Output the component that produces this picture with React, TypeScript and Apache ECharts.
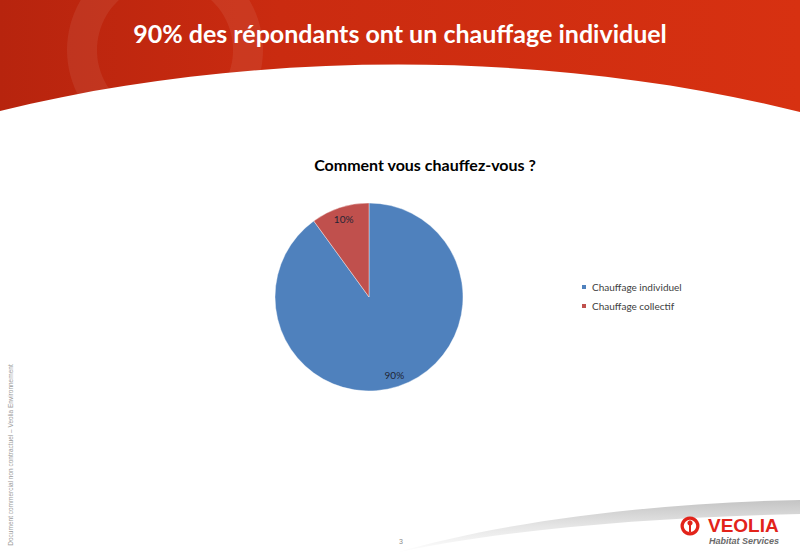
import React, { useEffect, useRef } from "react";
import * as echarts from "echarts";

const pageTitle = "90% des répondants ont un chauffage individuel";
const chartTitle = "Comment vous chauffez-vous ?";
const categories = ["Chauffage individuel", "Chauffage collectif"];
const values = [90, 10];
const sliceColors = ["#4f81bd", "#c0504d"];
const sideNote = "Document commercial non contractuel – Veolia Environnement";
const pageNumber = "3";

echarts.graphic.registerShape(
  "headerBand",
  echarts.graphic.extendPath("M0 0 L800 0 L800 112 C550 49 250 49 0 111 Z", {})
);
echarts.graphic.registerShape(
  "footerSwoosh",
  echarts.graphic.extendPath(
    "M395 553 C500 522 650 503 800 500 L800 514 C650 517 500 530 395 553 Z",
    {}
  )
);

export default function App() {
  const ref = useRef<HTMLDivElement>(null);
  useEffect(() => {
    if (!ref.current) return;
    const chart = echarts.init(ref.current, null, { renderer: "svg" });
    const data = categories.map((name, i) => ({
      name,
      value: values[i],
      itemStyle: { color: sliceColors[i] },
    }));
    chart.setOption({
      animation: false,
      backgroundColor: "#ffffff",
      legend: {
        data: categories,
        orient: "vertical",
        left: 575,
        top: 277,
        icon: "rect",
        itemWidth: 6,
        itemHeight: 6,
        itemGap: 9,
        textStyle: { fontFamily: "Lato", fontSize: 10, color: "#404040" },
      },
      series: [
        {
          type: "pie",
          center: [369, 297],
          radius: [0, 94],
          startAngle: 90,
          clockwise: true,
          silent: true,
          label: { show: false },
          labelLine: { show: false },
          itemStyle: { borderColor: "#ffffff", borderWidth: 0.4 },
          data,
        },
        {
          type: "pie",
          center: [369, 297],
          radius: [64, 94],
          startAngle: 90,
          clockwise: true,
          silent: true,
          legendHoverLink: false,
          itemStyle: { color: "rgba(0,0,0,0)" },
          label: {
            show: true,
            position: "inside",
            formatter: (p: any) => `${p.value}%`,
            fontFamily: "Lato",
            fontSize: 10,
            color: "#1f2535",
          },
          labelLine: { show: false },
          data: categories.map((name, i) => ({ name, value: values[i] })),
        },
      ],
      graphic: [
        {
          type: "headerBand",
          x: 0,
          y: 0,
          silent: true,
          style: {
            fill: new echarts.graphic.LinearGradient(0, 0, 1, 0, [
              { offset: 0, color: "#b7240e" },
              { offset: 0.35, color: "#ca2b10" },
              { offset: 1, color: "#d73111" },
            ]),
          },
        },
        {
          type: "ring",
          shape: { cx: 165, cy: 50, r: 98, r0: 68 },
          silent: true,
          style: { fill: "rgba(255,255,255,0.07)" },
        },
        {
          type: "text",
          x: 400,
          y: 33,
          silent: true,
          style: {
            text: pageTitle,
            fill: "#ffffff",
            font: "bold 25px Lato",
            textAlign: "center",
            textVerticalAlign: "middle",
          },
        },
        {
          type: "text",
          x: 425,
          y: 164,
          silent: true,
          style: {
            text: chartTitle,
            fill: "#000000",
            font: "bold 16px Lato",
            textAlign: "center",
            textVerticalAlign: "middle",
          },
        },
        {
          type: "text",
          x: 10,
          y: 455,
          rotation: Math.PI / 2,
          silent: true,
          style: {
            text: sideNote,
            fill: "#9a9a9a",
            font: "6.5px 'Liberation Sans'",
            textAlign: "center",
            textVerticalAlign: "middle",
          },
        },
        {
          type: "footerSwoosh",
          x: 0,
          y: 0,
          silent: true,
          style: {
            fill: new echarts.graphic.LinearGradient(0, 0, 0, 1, [
              { offset: 0, color: "#c4c4c4" },
              { offset: 0.5, color: "#e6e6e6" },
              { offset: 1, color: "#ffffff" },
            ]),
          },
        },
        {
          type: "text",
          x: 401,
          y: 541,
          silent: true,
          style: {
            text: pageNumber,
            fill: "#8a8a8a",
            font: "7px 'Liberation Sans'",
            textAlign: "center",
            textVerticalAlign: "middle",
          },
        },
        {
          type: "ring",
          shape: { cx: 690, cy: 526, r: 9.5, r0: 6.2 },
          silent: true,
          style: { fill: "#e2231a" },
        },
        {
          type: "circle",
          shape: { cx: 690, cy: 523, r: 2.6 },
          silent: true,
          style: { fill: "#e2231a" },
        },
        {
          type: "rect",
          shape: { x: 689, y: 525, width: 2, height: 7 },
          silent: true,
          style: { fill: "#e2231a" },
        },
        {
          type: "text",
          x: 708,
          y: 525.5,
          silent: true,
          style: {
            text: "VEOLIA",
            fill: "#e2231a",
            font: "bold 19px 'Liberation Sans'",
            textAlign: "left",
            textVerticalAlign: "middle",
          },
        },
        {
          type: "text",
          x: 709,
          y: 541,
          silent: true,
          style: {
            text: "Habitat Services",
            fill: "#6a6a6a",
            font: "italic bold 9px 'Liberation Sans'",
            textAlign: "left",
            textVerticalAlign: "middle",
          },
        },
      ],
    });
    return () => chart.dispose();
  }, []);
  return (
    <div
      ref={ref}
      style={{ position: "fixed", left: 0, top: 0, width: 800, height: 553 }}
    />
  );
}
